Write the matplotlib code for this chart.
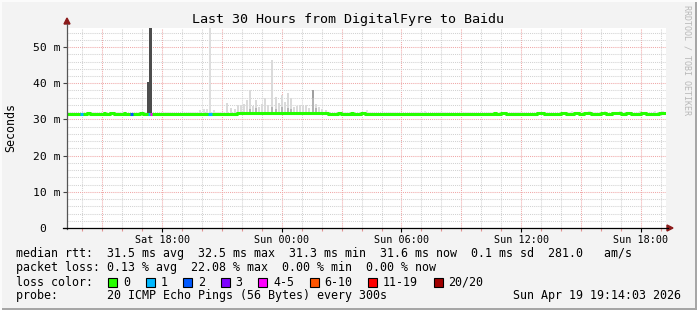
import numpy as np
import matplotlib.pyplot as plt
from matplotlib.patches import Rectangle, Polygon
from matplotlib.lines import Line2D

W, H = 697, 310
plt.rcParams['font.family'] = ['DejaVu Sans Mono']

# x is hours since graph start (Sat 13:14:03), 30 hours shown
hours_total = 30
tick_hours = [4.766, 10.766, 16.766, 22.766, 28.766]
tick_labels = ['Sat 18:00', 'Sun 00:00', 'Sun 06:00', 'Sun 12:00', 'Sun 18:00']
y_ticks = [0, 10, 20, 30, 40, 50]
y_labels = ['0  ', '10 m', '20 m', '30 m', '40 m', '50 m']

# median rtt in ms, base level plus the stretches where it moved
median_base = 31.5
med_start = [0.95, 1.80, 2.16, 2.76, 3.66, 8.17, 8.47, 13.58, 14.19, 14.69, 21.35,
             21.70, 23.56, 24.71, 25.41, 25.86, 26.72, 27.32, 27.97, 28.72, 29.62]
med_end = [1.10, 1.90, 2.26, 2.86, 3.76, 8.47, 13.08, 13.68, 14.29, 14.84, 21.45,
           21.95, 23.86, 24.96, 25.61, 26.21, 26.97, 27.72, 28.22, 28.97, 29.92]
med_value = [31.8, 31.8, 31.8, 31.8, 31.8, 31.4, 31.8, 31.8, 31.8, 31.8, 31.8,
             31.8, 31.8, 31.8, 31.8, 31.8, 31.8, 31.8, 31.8, 31.8, 31.8]

# packet loss events: start hour, end hour, pings lost of 20
loss_start = [0.65, 3.16, 4.06, 4.16, 7.07]
loss_end = [0.80, 3.31, 4.16, 4.26, 7.27]
loss_count = [1, 2, 1, 5, 1]

loss_names = ['0', '1', '2', '3', '4-5', '6-10', '11-19', '20/20']
loss_colors = ['#26ff00', '#00b8ff', '#0059ff', '#7e00ff', '#ff00ff',
               '#ff5500', '#ff0000', '#a00000']

# smoke (spread of the 20 pings): hour, top in ms, width in hours, grey
smoke_hour = [4.10, 4.19, 7.17, 6.67, 6.87, 7.02, 7.37, 8.02, 8.22, 8.42, 8.57,
              8.72, 8.87, 9.02, 9.17, 9.32, 9.47, 9.62, 9.77, 9.92, 10.08, 10.28,
              10.48, 10.63, 10.78, 10.93, 11.08, 11.23, 11.38, 11.53, 11.68, 11.83,
              11.98, 12.13, 12.33, 12.48, 12.63, 12.78, 12.98, 15.04, 17.94, 25.31,
              26.20, 26.97, 27.72, 28.72, 29.47, 29.87]
smoke_top = [40.4, 55.4, 55.4, 32.6, 32.9, 33.0, 32.6, 34.6, 33.1, 33.0, 34.0,
             34.0, 34.4, 35.5, 38.1, 33.6, 35.4, 33.5, 34.3, 35.9, 34.0, 46.5,
             36.3, 34.5, 36.7, 34.9, 37.2, 35.9, 33.5, 33.7, 34.0, 33.6, 34.0,
             33.2, 38.1, 34.4, 33.5, 33.0, 32.6, 32.5, 32.4, 32.3, 32.3, 32.4,
             32.3, 32.4, 32.3, 32.4]
smoke_grey = ['#4d4d4d', '#4d4d4d', '#dedede', '#e0e0e0', '#e0e0e0', '#e0e0e0',
              '#e0e0e0', '#dadada', '#dadada', '#dadada', '#dadada', '#dadada',
              '#dadada', '#dadada', '#dadada', '#dadada', '#dadada', '#dadada',
              '#dadada', '#dadada', '#dadada', '#dadada', '#dadada', '#dadada',
              '#dadada', '#dadada', '#dadada', '#dadada', '#dadada', '#dadada',
              '#dadada', '#dadada', '#dadada', '#dadada', '#a0a0a0', '#dadada',
              '#dadada', '#dadada', '#dadada', '#e4e4e4', '#e4e4e4', '#e4e4e4',
              '#e4e4e4', '#e4e4e4', '#e4e4e4', '#e4e4e4', '#e4e4e4', '#e4e4e4']
smoke_width = [0.2, 0.12, 0.1] + [0.12] * 45
# denser inner part of the smoke
inner_hour = [9.17, 9.47, 10.28, 10.48, 10.78, 11.08, 11.23, 12.33, 12.48]
inner_top = [33.0, 33.2, 33.4, 33.0, 33.3, 33.2, 32.9, 36.0, 33.2]

# legend text
rtt_line = 'median rtt:  31.5 ms avg  32.5 ms max  31.3 ms min  31.6 ms now  0.1 ms sd  281.0   am/s'
loss_line = 'packet loss: 0.13 % avg  22.08 % max  0.00 % min  0.00 % now'
probe_line = 'probe:       20 ICMP Echo Pings (56 Bytes) every 300s'
stamp = 'Sun Apr 19 19:14:03 2026'
title = 'Last 30 Hours from DigitalFyre to Baidu'


def fx(px):
    return px / W


def fy(py):
    return 1 - py / H


fig = plt.figure(figsize=(W / 100, H / 100), dpi=100, facecolor='#f3f3f3')
ax = fig.add_axes([fx(67), fy(228), fx(665.5) - fx(67), fy(27.5) - fy(228)])
ax.set_facecolor('white')
ymax = 55.4
ax.set_xlim(0, hours_total)
ax.set_ylim(0, ymax)

# grid
for h in np.arange(0.766, hours_total, 1.0):
    major = abs((h - 1.766) / 3 - round((h - 1.766) / 3)) < 1e-6
    ax.axvline(h, color='#f0a8a8' if major else '#d2d2d2', lw=0.75,
               ls=(0, (1, 1)), zorder=1)
for v in np.arange(2, ymax, 2):
    major = v % 10 == 0
    ax.axhline(v, color='#f0a8a8' if major else '#d2d2d2', lw=0.75,
               ls=(0, (1, 1)), zorder=1)

# median on a 5 minute grid
t = np.arange(0, hours_total, 1 / 12)
med = np.full(t.shape, median_base)
for s, e, v in zip(med_start, med_end, med_value):
    med[(t >= s - 1e-9) & (t < e - 1e-9)] = v


def med_at(h):
    return med[min(int(h * 12), len(med) - 1)]


# smoke
for h, top, wd, c in zip(smoke_hour, smoke_top, smoke_width, smoke_grey):
    b = med_at(h)
    ax.bar(h, top - b, bottom=b, width=wd, color=c, lw=0, zorder=2)
for h, top in zip(inner_hour, inner_top):
    b = med_at(h)
    ax.bar(h, top - b, bottom=b, width=0.08, color='#b4b4b4', lw=0, zorder=2.5)

ax.step(np.append(t, t[-1] + 1 / 12), np.append(med, med[-1]), where='post',
        color=loss_colors[0], lw=2.2, zorder=3)


def loss_bucket(n):
    if n <= 3:
        return n
    if n <= 5:
        return 4
    if n <= 10:
        return 5
    if n <= 19:
        return 6
    return 7


for s, e, n in zip(loss_start, loss_end, loss_count):
    ax.hlines(med_at(s), s, e, color=loss_colors[loss_bucket(n)], lw=2.2, zorder=4)

# axes and ticks
for sp in ax.spines.values():
    sp.set_visible(False)
ax.set_yticks(y_ticks)
ax.set_yticklabels(y_labels)
ax.set_xticks(tick_hours)
ax.set_xticklabels(tick_labels)
ax.set_xticks(np.arange(0.766, hours_total, 1.0), minor=True)
ax.tick_params(axis='y', direction='out', length=3, width=0.8, color='#444444',
               pad=1.5, labelsize=8.2)
ax.tick_params(axis='x', which='major', direction='out', length=3, width=0.8,
               color='black', pad=2, labelsize=7.3)
ax.tick_params(axis='x', which='minor', direction='out', length=2, width=0.8,
               color='#e09090')

# axis lines with arrows
fig.add_artist(Line2D([fx(67), fx(67)], [fy(229), fy(24)], color='#555555', lw=0.9))
fig.add_artist(Line2D([fx(63), fx(668)], [fy(228), fy(228)], color='black', lw=0.9))
fig.add_artist(Polygon([[fx(64), fy(24)], [fx(70), fy(24)], [fx(67), fy(18)]],
                       closed=True, color='#8b1a1a'))
fig.add_artist(Polygon([[fx(667), fy(225)], [fx(667), fy(231)], [fx(673), fy(228)]],
                       closed=True, color='#8b1a1a'))

# frame
fig.add_artist(Rectangle((0, 0), 1, fy(307.5), color='#a6a6a6', lw=0))
fig.add_artist(Rectangle((fx(694.5), 0), 1, 1, color='#a6a6a6', lw=0))
fig.add_artist(Rectangle((0, fy(2)), 1, 1, color='#fbfbfb', lw=0))
fig.add_artist(Rectangle((0, 0), fx(2), 1, color='#fbfbfb', lw=0))

# texts
fig.text(fx(348), fy(20), title, ha='center', va='center', fontsize=9.6)
fig.text(fx(11), fy(127), 'Seconds', rotation=90, ha='center', va='center', fontsize=8.4)
fig.text(fx(687), fy(5), 'RRDTOOL / TOBI OETIKER', rotation=270, ha='center', va='top',
         fontsize=6.0, color='#b8b8b8')

fs = 8.4
fig.text(fx(16), fy(254), rtt_line, ha='left', va='center', fontsize=fs)
fig.text(fx(16), fy(268), loss_line, ha='left', va='center', fontsize=fs)
fig.text(fx(16), fy(282), 'loss color:', ha='left', va='center', fontsize=fs)
fig.text(fx(16), fy(296), probe_line, ha='left', va='center', fontsize=fs)
fig.text(fx(681), fy(296), stamp, ha='right', va='center', fontsize=fs)

bx = 108
for name, col in zip(loss_names, loss_colors):
    fig.add_artist(Rectangle((fx(bx), fy(287)), 9 / W, 9 / H, facecolor=col,
                             edgecolor='black', lw=0.8))
    fig.text(fx(bx + 15), fy(282), name, ha='left', va='center', fontsize=fs)
    bx = bx + 15 + len(name) * 7 + 15.5

fig.savefig('out.png', dpi=100, facecolor=fig.get_facecolor())
